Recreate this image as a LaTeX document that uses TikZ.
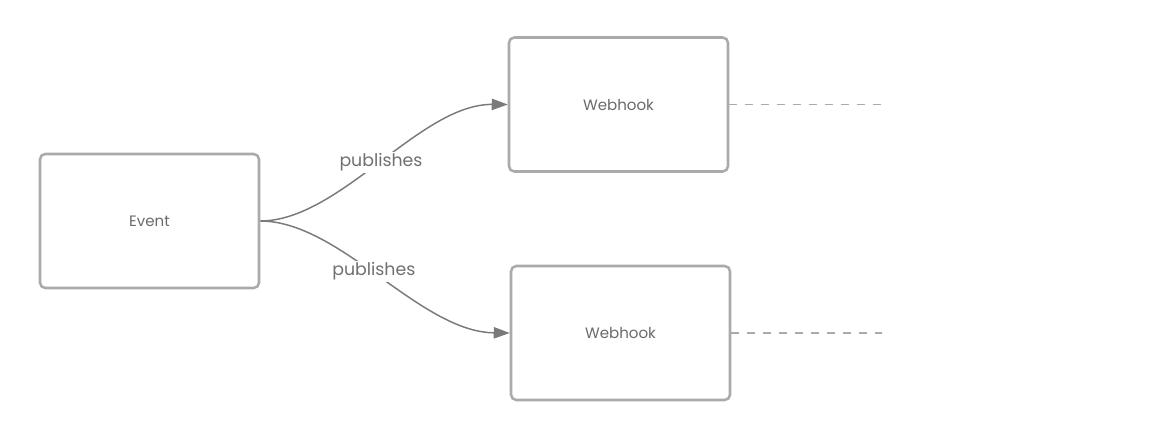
\documentclass[tikz,border=0pt]{standalone}
\usepackage{fontspec}
\setmainfont{Poppins}
\usetikzlibrary{arrows.meta}
\definecolor{boxline}{HTML}{AAAAAA}
\definecolor{txt}{HTML}{6A6A6A}
\definecolor{lbl}{HTML}{707070}
\definecolor{conn}{HTML}{7A7A7A}
\begin{document}
\begin{tikzpicture}[x=0.75pt,y=-0.75pt,
  box/.style={draw=boxline,line width=1.9pt,rounded corners=4pt,minimum width=219*0.75pt,minimum height=134*0.75pt,inner sep=0pt,font=\fontsize{11.3}{13}\selectfont,text=txt},
  conn/.style={draw=conn,line width=1.1pt,-{Triangle[length=12pt,width=8.5pt]}},
  lab/.style={fill=white,text=lbl,font=\fontsize{13}{15}\selectfont,inner sep=1pt},
  dashline/.style={draw=boxline,line width=1.1pt,dash pattern=on 6pt off 6pt}]
\useasboundingbox (0,0) rectangle (1162,441);
\node[box] (ev) at (149.5,221) {Event};
\node[box] (wh1) at (618.5,104.5) {Webhook};
\node[box] (wh2) at (620.5,333) {Webhook};
\coordinate (e1) at (882,104.5);
\coordinate (e2) at (882,333);
\draw[conn] (ev.east) .. controls (340,221) and (420,104) .. (wh1.west) node[lab,pos=0.5] (l1) {publishes};
\draw[conn] (ev.east) .. controls (340,221) and (420,332) .. (wh2.west) node[lab,pos=0.47] (l2) {publishes};
\draw[dashline] (wh1.east) -- (e1);
\draw[dashline] (wh2.east) -- (e2);
\end{tikzpicture}
\end{document}
